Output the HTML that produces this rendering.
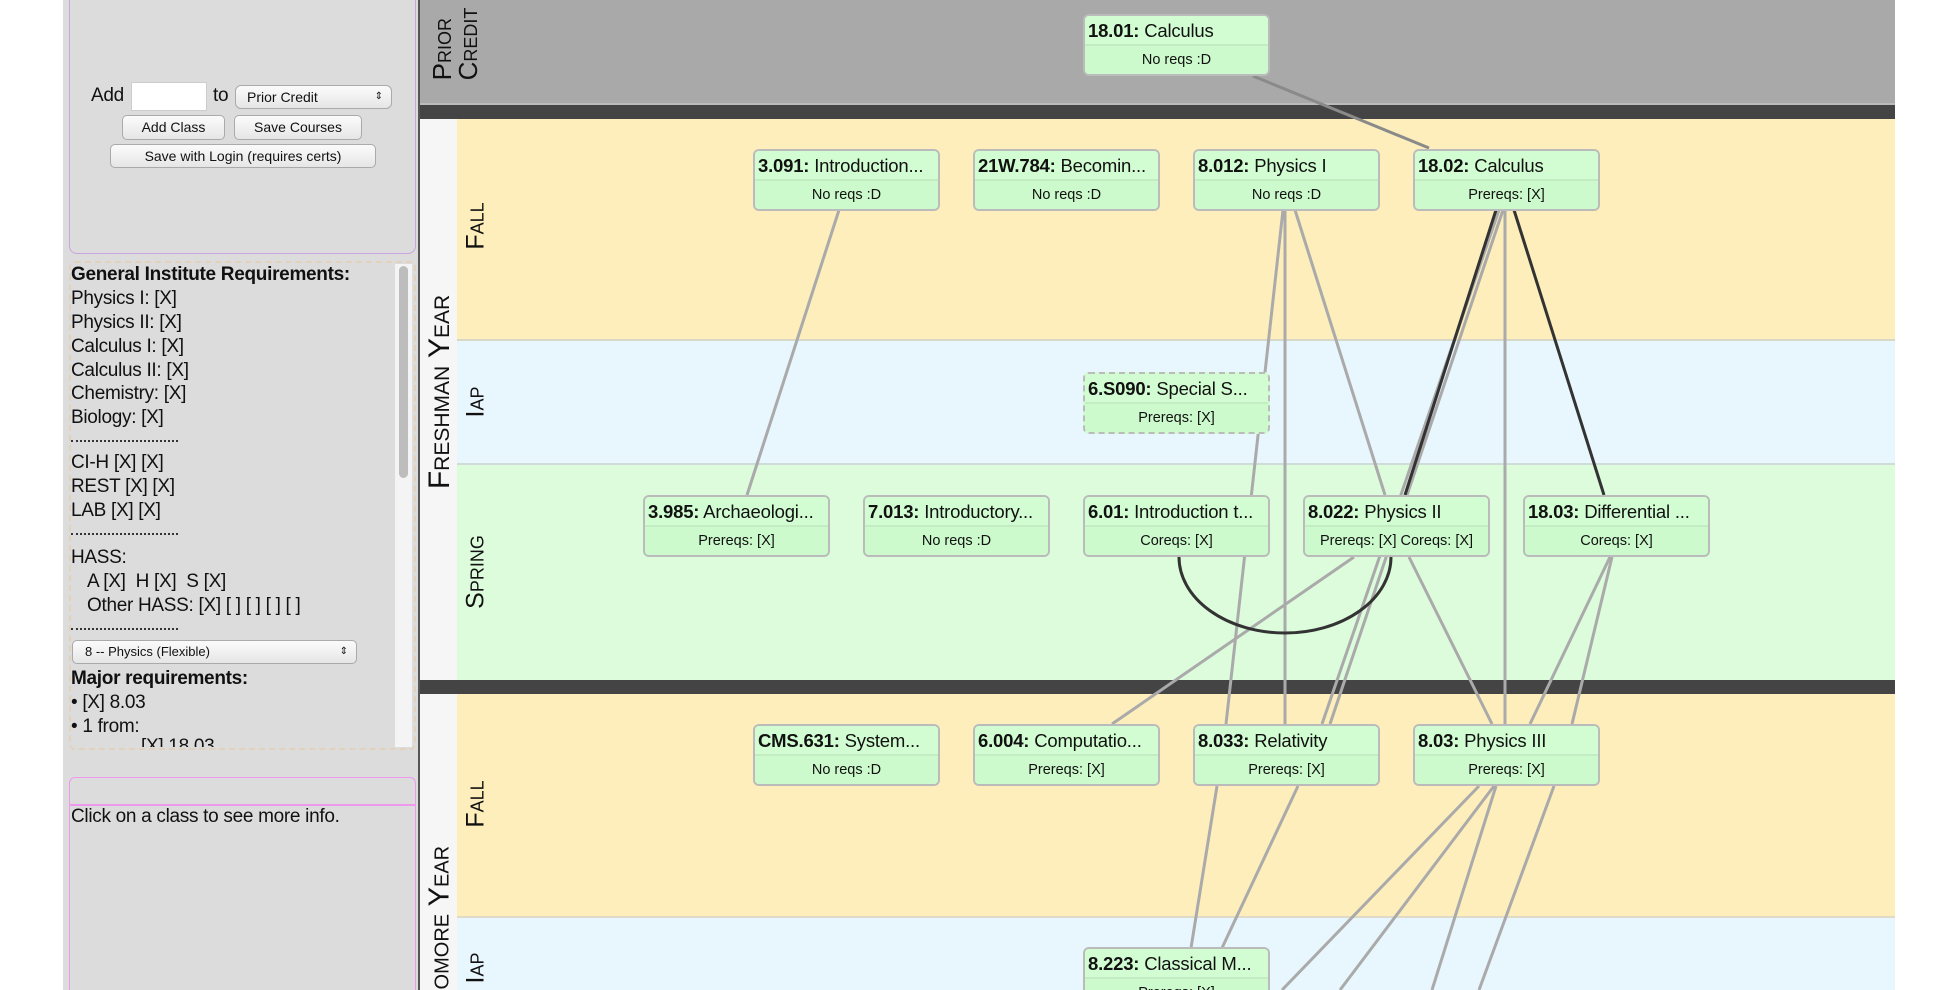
<!DOCTYPE html>
<html style="width:1958px;height:990px;overflow:hidden"><head><meta charset="utf-8"><style>
*{box-sizing:border-box;margin:0;padding:0}
body{width:1958px;height:990px;position:relative;overflow:hidden;background:#fff;font-family:"Liberation Sans",sans-serif;color:#111}
.a{position:absolute}
.band{position:absolute;left:457px;width:1438px}
.node{position:absolute;width:187px;height:62px;background:#d0fdd0;border:2px solid #bbb;border-radius:6px;overflow:hidden}
.node .t{height:30px;line-height:29px;font-size:18.5px;padding-left:3px;white-space:nowrap;border-bottom:2px solid #c3ecc3;background:#d2fdd2;letter-spacing:-0.2px}
.node .s{height:28px;line-height:28px;font-size:14.5px;text-align:center;white-space:nowrap;background:#ccfacc}
.dash{border-style:dashed}
.sl{position:absolute;font-size:19px;left:71px;white-space:nowrap;line-height:22px;letter-spacing:-0.3px}
.vl{position:absolute;font-variant:small-caps;white-space:nowrap;transform:translate(-50%,-50%) rotate(-90deg);transform-origin:center}
.btn{position:absolute;background:linear-gradient(#fbfbfb,#e6e6e6);border:1px solid #aaa;border-radius:5px;font-size:14px;text-align:center;line-height:22px}
</style></head><body>
<!-- sidebar -->
<div class="a" style="left:63px;top:0;width:356px;height:990px;background:#dcdcdc"></div>
<div class="a" style="left:69px;top:-4px;width:347px;height:258px;border:1.5px solid #c8a4e0;border-radius:0 0 8px 8px"></div>
<div class="sl" style="left:91px;top:85px">Add</div>
<div class="a" style="left:131px;top:82px;width:76px;height:29px;background:#fff;border:1px solid #ccc"></div>
<div class="sl" style="left:213px;top:85px">to</div>
<div class="btn" style="left:235px;top:85px;width:157px;height:24px;text-align:left;padding-left:11px;border-radius:6px">Prior Credit<span style="position:absolute;right:8px;font-size:10px">&#8661;</span></div>
<div class="btn" style="left:122px;top:115px;width:103px;height:25px">Add Class</div>
<div class="btn" style="left:234px;top:115px;width:128px;height:25px">Save Courses</div>
<div class="btn" style="left:110px;top:144px;width:266px;height:24px">Save with Login (requires certs)</div>

<div class="a" style="left:69px;top:261px;width:347px;height:489px;border:2px dashed #e2d2bc;border-radius:6px"></div>
<div class="a" style="left:395px;top:264px;width:17px;height:483px;background:#f4f4f4"></div>
<div class="a" style="left:399px;top:266px;width:9px;height:212px;background:#bdbdbd;border-radius:5px"></div>
<div class="sl" style="top:264px;font-weight:bold">General Institute Requirements:</div>
<div class="sl" style="top:288px">Physics I: [X]</div>
<div class="sl" style="top:312px">Physics II: [X]</div>
<div class="sl" style="top:336px">Calculus I: [X]</div>
<div class="sl" style="top:360px">Calculus II: [X]</div>
<div class="sl" style="top:383px">Chemistry: [X]</div>
<div class="sl" style="top:407px">Biology: [X]</div>
<div class="a" style="left:71px;top:440px;width:107px;height:2px;border-top:2px dotted #333"></div>
<div class="sl" style="top:452px">CI-H [X] [X]</div>
<div class="sl" style="top:476px">REST [X] [X]</div>
<div class="sl" style="top:500px">LAB [X] [X]</div>
<div class="a" style="left:71px;top:533px;width:107px;height:2px;border-top:2px dotted #333"></div>
<div class="sl" style="top:547px">HASS:</div>
<div class="sl" style="left:87px;top:571px">A [X]&nbsp; H [X]&nbsp; S [X]</div>
<div class="sl" style="left:87px;top:595px">Other HASS: [X] [ ] [ ] [ ] [ ]</div>
<div class="a" style="left:71px;top:628px;width:107px;height:2px;border-top:2px dotted #333"></div>
<div class="btn" style="left:72px;top:640px;width:285px;height:24px;text-align:left;padding-left:12px;font-size:13px">8 -- Physics (Flexible)<span style="position:absolute;right:8px;font-size:10px">&#8661;</span></div>
<div class="sl" style="top:668px;font-weight:bold">Major requirements:</div>
<div class="sl" style="top:692px">&#8226; [X] 8.03</div>
<div class="sl" style="top:716px">&#8226; 1 from:</div>
<div class="a" style="left:71px;top:738px;width:322px;height:9px;overflow:hidden"><div class="sl" style="left:70px;top:-2px">[X] 18.03</div></div>

<div class="a" style="left:69px;top:777px;width:347px;height:213px;border:1.5px solid #ee99ee;border-bottom:none;border-radius:6px 6px 0 0"></div>
<div class="a" style="left:69px;top:804px;width:347px;height:1.5px;background:#ee99ee"></div>
<div class="sl" style="top:806px">Click on a class to see more info.</div>

<!-- main -->
<div class="a" style="left:418px;top:0;width:1477px;height:990px;background:#f6f6f6;border-left:2px solid #555"></div>
<div class="a" style="left:420px;top:0;width:1475px;height:103px;background:#a9a9a9"></div>
<div class="a" style="left:420px;top:103px;width:1475px;height:16px;background:#444;border-top:2px solid #bbb"></div>
<div class="band" style="top:119px;height:222px;background:#fdeebb;border-bottom:2px solid #d8d8c8"></div>
<div class="band" style="top:341px;height:124px;background:#e8f6fe;border-bottom:2px solid #cfdcd8"></div>
<div class="band" style="top:465px;height:215px;background:#dcfcdc"></div>
<div class="a" style="left:420px;top:680px;width:1475px;height:14px;background:#444"></div>
<div class="band" style="top:694px;height:224px;background:#fdeebb;border-bottom:2px solid #e0dac8"></div>
<div class="band" style="top:918px;height:72px;background:#e8f6fe"></div>

<div class="vl" style="left:455px;top:44px;font-size:26px;line-height:26px;text-align:left">Prior<br>Credit</div>
<div class="vl" style="left:440px;top:392px;font-size:30px">Freshman Year</div>
<div class="vl" style="left:476px;top:226px;font-size:25px">Fall</div>
<div class="vl" style="left:476px;top:402px;font-size:25px">Iap</div>
<div class="vl" style="left:476px;top:572px;font-size:25px">Spring</div>
<div class="vl" style="left:476px;top:804px;font-size:25px">Fall</div>
<div class="a" style="left:420px;top:694px;width:80px;height:296px;overflow:hidden">
<div class="vl" style="left:20px;top:255px;font-size:29px">Sophomore Year</div>
<div class="vl" style="left:56px;top:274px;font-size:25px">Iap</div>
</div>

<svg class="a" style="left:0;top:0" width="1958" height="990">
<g stroke="#aaa" stroke-width="3" fill="none">
<line x1="1253" y1="76" x2="1429" y2="148" stroke="#8a8a8a"/>
<line x1="839" y1="210" x2="747" y2="495"/>
<line x1="1283" y1="210" x2="1226" y2="724"/>
<line x1="1285" y1="210" x2="1285" y2="724"/>
<line x1="1295" y1="210" x2="1385" y2="495"/>
<line x1="1499" y1="210" x2="1322" y2="724"/>
<line x1="1503" y1="210" x2="1330" y2="724"/>
<line x1="1505" y1="210" x2="1505" y2="724"/>
<line x1="1409" y1="557" x2="1492" y2="724"/>
<line x1="1610" y1="557" x2="1530" y2="724"/>
<line x1="1612" y1="557" x2="1572" y2="724"/>
<line x1="1354" y1="557" x2="1112" y2="724"/>
<line x1="1217" y1="786" x2="1191" y2="948"/>
<line x1="1298" y1="786" x2="1222" y2="948"/>
<line x1="1479" y1="786" x2="1282" y2="990"/>
<line x1="1494" y1="786" x2="1340" y2="990"/>
<line x1="1496" y1="786" x2="1432" y2="990"/>
<line x1="1554" y1="786" x2="1479" y2="990"/>
</g>
<g stroke="#333" stroke-width="3" fill="none">
<line x1="1496" y1="210" x2="1405" y2="495"/>
<line x1="1514" y1="210" x2="1604" y2="495"/>
<path d="M1179 557 A106 76 0 0 0 1391 557"/>
</g>
</svg>

<div class="node" style="left:1083px;top:14px"><div class="t"><b>18.01:</b> Calculus</div><div class="s">No reqs :D</div></div>
<div class="node" style="left:753px;top:149px"><div class="t"><b>3.091:</b> Introduction...</div><div class="s">No reqs :D</div></div>
<div class="node" style="left:973px;top:149px"><div class="t"><b>21W.784:</b> Becomin...</div><div class="s">No reqs :D</div></div>
<div class="node" style="left:1193px;top:149px"><div class="t"><b>8.012:</b> Physics I</div><div class="s">No reqs :D</div></div>
<div class="node" style="left:1413px;top:149px"><div class="t"><b>18.02:</b> Calculus</div><div class="s">Prereqs: [X]</div></div>
<div class="node dash" style="left:1083px;top:372px"><div class="t"><b>6.S090:</b> Special S...</div><div class="s">Prereqs: [X]</div></div>
<div class="node" style="left:643px;top:495px"><div class="t"><b>3.985:</b> Archaeologi...</div><div class="s">Prereqs: [X]</div></div>
<div class="node" style="left:863px;top:495px"><div class="t"><b>7.013:</b> Introductory...</div><div class="s">No reqs :D</div></div>
<div class="node" style="left:1083px;top:495px"><div class="t"><b>6.01:</b> Introduction t...</div><div class="s">Coreqs: [X]</div></div>
<div class="node" style="left:1303px;top:495px"><div class="t"><b>8.022:</b> Physics II</div><div class="s">Prereqs: [X] Coreqs: [X]</div></div>
<div class="node" style="left:1523px;top:495px"><div class="t"><b>18.03:</b> Differential ...</div><div class="s">Coreqs: [X]</div></div>
<div class="node" style="left:753px;top:724px"><div class="t"><b>CMS.631:</b> System...</div><div class="s">No reqs :D</div></div>
<div class="node" style="left:973px;top:724px"><div class="t"><b>6.004:</b> Computatio...</div><div class="s">Prereqs: [X]</div></div>
<div class="node" style="left:1193px;top:724px"><div class="t"><b>8.033:</b> Relativity</div><div class="s">Prereqs: [X]</div></div>
<div class="node" style="left:1413px;top:724px"><div class="t"><b>8.03:</b> Physics III</div><div class="s">Prereqs: [X]</div></div>
<div class="a" style="left:1083px;top:947px;width:187px;height:43px;overflow:hidden"><div class="node" style="left:0;top:0"><div class="t"><b>8.223:</b> Classical M...</div><div class="s">Prereqs: [X]</div></div></div>
</body></html>
